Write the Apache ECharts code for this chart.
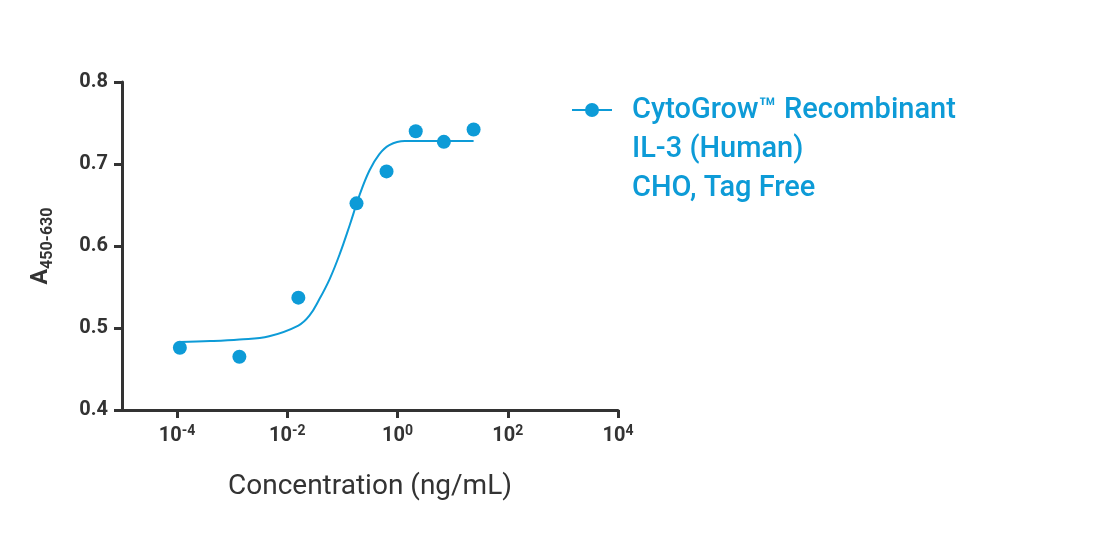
<!DOCTYPE html><html><head><meta charset="utf-8"><script src="https://cdn.jsdelivr.net/npm/echarts@6/dist/echarts.min.js"></script></head><body style="margin:0"><div id="c" style="width:1104px;height:534px"></div><script>
const logConc=[-3.95,-2.87,-1.8,-0.745,-0.2,0.33,0.84,1.38];
const absorb=[0.476,0.465,0.537,0.652,0.691,0.740,0.727,0.742];
const fitLogConc=[-3.95,-3.4,-2.87,-2.33,-1.8,-1.6,-1.42,-1.23,-1.05,-0.87,-0.69,-0.51,-0.33,-0.15,0.13,0.6,1.38];
const fitAbs=[0.483,0.484,0.486,0.49,0.503,0.515,0.535,0.56,0.59,0.625,0.662,0.692,0.712,0.723,0.728,0.728,0.728];
const xTicks=[-4,-2,0,2,4];
const legendText='CytoGrow™ Recombinant\nIL-3 (Human)\nCHO, Tag Free';
const C='#0d9bd7',T='#333';
const ch=echarts.init(document.getElementById('c'));
ch.setOption({animation:false,
grid:{left:122,right:486,top:82,bottom:124},
graphic:[
 {type:'line',shape:{x1:572,y1:110,x2:612,y2:110},style:{stroke:C,lineWidth:2}},
 {type:'circle',shape:{cx:592,cy:110,r:7},style:{fill:C}},
 {type:'text',left:632,top:91,style:{text:legendText,fill:C,font:'500 29px Roboto',lineHeight:39}}
],
xAxis:{type:'value',min:-5,max:4,interval:1,
 name:'Concentration (ng/mL)',nameLocation:'middle',nameGap:63,nameTextStyle:{fontSize:28,color:T,fontFamily:'Roboto'},
 axisLine:{lineStyle:{color:T,width:3}},axisTick:{customValues:xTicks,length:8,lineStyle:{color:T,width:3}},
 splitLine:{show:false},
 axisLabel:{customValues:xTicks,margin:14,formatter:v=>'{b|10}{s|'+v+'}',
  rich:{b:{fontSize:20,fontWeight:'bold',color:T,fontFamily:'Roboto'},s:{fontSize:14,fontWeight:'bold',color:T,fontFamily:'Roboto',verticalAlign:'top',padding:[0,0,10,0]}}}},
yAxis:{type:'value',min:0.4,max:0.8,interval:0.1,
 name:'{a|A}{s|450-630}',nameLocation:'middle',nameGap:66,
 nameTextStyle:{rich:{a:{fontSize:23,fontWeight:'bold',color:T,fontFamily:'Roboto'},s:{fontSize:16,fontWeight:'bold',color:T,fontFamily:'Roboto',padding:[14,0,0,0]}}},
 axisLine:{show:true,onZero:false,lineStyle:{color:T,width:3}},axisTick:{show:true,length:8,lineStyle:{color:T,width:3}},
 splitLine:{show:false},
 axisLabel:{formatter:v=>v.toFixed(1),fontSize:20,fontWeight:'bold',color:T,fontFamily:'Roboto',margin:14}},
series:[
 {name:'s',type:'scatter',data:logConc.map((x,i)=>[x,absorb[i]]),symbolSize:14,itemStyle:{color:C,opacity:1},z:3},
 {name:'s',type:'line',data:fitLogConc.map((x,i)=>[x,fitAbs[i]]),smooth:0.4,showSymbol:false,lineStyle:{color:C,width:2}}
]});
</script></body></html>
